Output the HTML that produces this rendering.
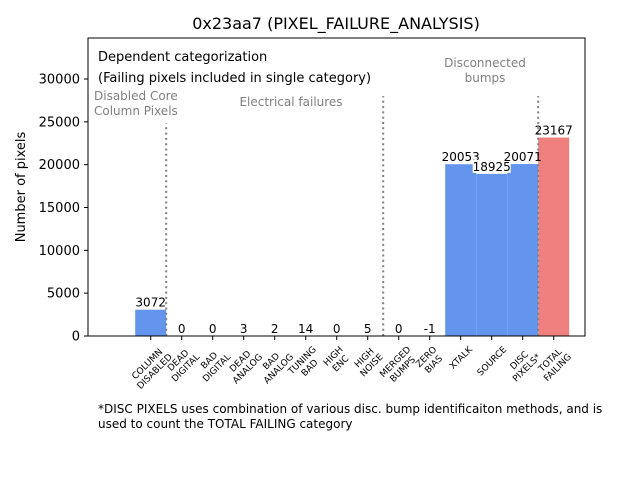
<!DOCTYPE html>
<html><head><meta charset="utf-8"><style>
body{margin:0;background:#fff}
svg{display:block;font-family:"DejaVu Sans","Liberation Sans",sans-serif}
</style></head><body>
<svg id="chart" width="640" height="480" viewBox="0 0 640 480">
<rect width="640" height="480" fill="#fff"/>
<text x="336" y="29" font-size="16" text-anchor="middle">0x23aa7 (PIXEL_FAILURE_ANALYSIS)</text>
<text transform="translate(25,187) rotate(-90)" font-size="13" text-anchor="middle">Number of pixels</text>
<g id="plot"></g>
<text x="98" y="61" font-size="13">Dependent categorization</text>
<text x="98" y="82" font-size="13">(Failing pixels included in single category)</text>
<text font-size="12" fill="#808080"><tspan x="94" y="100">Disabled Core</tspan><tspan x="94" y="115">Column Pixels</tspan></text>
<text x="291" y="106" font-size="12" fill="#808080" text-anchor="middle">Electrical failures</text>
<text font-size="12" fill="#808080" text-anchor="middle"><tspan x="485" y="67">Disconnected</tspan><tspan x="485" y="82">bumps</tspan></text>
<text font-size="12"><tspan x="98" y="413">*DISC PIXELS uses combination of various disc. bump identificaiton methods, and is</tspan><tspan x="98" y="428">used to count the TOTAL FAILING category</tspan></text>
</svg>
<script>
const categories=[["COLUMN","DISABLED"],["DEAD","DIGITAL"],["BAD","DIGITAL"],["DEAD","ANALOG"],["BAD","ANALOG"],["TUNING","BAD"],["HIGH","ENC"],["HIGH","NOISE"],["MERGED","BUMPS"],["ZERO","BIAS"],["XTALK"],["SOURCE"],["DISC","PIXELS*"],["TOTAL","FAILING"]];
const values=[3072,0,0,3,2,14,0,5,0,-1,20053,18925,20071,23167];
const yTicks=[0,5000,10000,15000,20000,25000,30000];
const separators=[0.5,7.5,12.5];
const separatorTops=[24800,28000,28000];
const NS="http://www.w3.org/2000/svg";
const g=document.getElementById('plot');
const L=88,R=585,T=38,B=336;
const xs=i=>150.7+i*31;
const ys=v=>B-v*(B-79)/30000;
function mk(t,a,p){const e=document.createElementNS(NS,t);for(const k in a)e.setAttribute(k,a[k]);(p||g).appendChild(e);return e;}
values.forEach((v,i)=>{
  const y0=ys(Math.max(v,0)),y1=ys(Math.min(v,0));
  const r=mk('rect',{x:xs(i)-15.5,y:y0,width:31,height:Math.max(y1-y0,0),fill:i===13?'#f08080':'#6495ed'});
  
  
});
separators.forEach((s,i)=>{
  const l=mk('line',{x1:xs(s),x2:xs(s),y1:B,y2:ys(separatorTops[i]),stroke:'#808080','stroke-width':2,'stroke-dasharray':'2,3.3'});
  
  
});
values.forEach((v,i)=>{
  const ty=ys(Math.max(v,0))-3;
  if(i===11){const b=mk('rect',{x:xs(i)-19,y:ty-11,width:38,height:13,fill:'#fff'});
    
    }
  const t=mk('text',{x:xs(i),y:ty,'font-size':12,'text-anchor':'middle'});
  t.textContent=v;
  
  
});
const f=mk('rect',{x:L,y:T,width:R-L,height:B-T,fill:'none',stroke:'#000','stroke-width':1});


yTicks.forEach(v=>{
  const y=ys(v);
  mk('line',{x1:L-4,x2:L,y1:y,y2:y,stroke:'#000'});
  const t=mk('text',{x:L-8,y:y+4.5,'font-size':13,'text-anchor':'end'});
  t.textContent=v;
  
  
});
const FS=9,LH=10.5;
categories.forEach((c,i)=>{
  const x=xs(i);
  mk('line',{x1:x,x2:x,y1:B,y2:B+4,stroke:'#000'});
  const grp=mk('g',{});
  const t=mk('text',{'font-size':FS,'text-anchor':'middle'},grp);
  
  
  const n=c.length;
  c.forEach((s,j)=>{const sp=document.createElementNS(NS,'tspan');sp.setAttribute('x',0);sp.setAttribute('y',(j-(n-1)/2)*LH+FS*0.35);sp.textContent=s;t.appendChild(sp);});
  let w=0;t.querySelectorAll('tspan').forEach(sp=>{w=Math.max(w,sp.getComputedTextLength());});
  const h=n*LH;
  const ext=(w+h)/Math.SQRT2;
  grp.setAttribute('transform',`translate(${x},${B+8+ext/2}) rotate(-45)`);
});
</script>
</body></html>
